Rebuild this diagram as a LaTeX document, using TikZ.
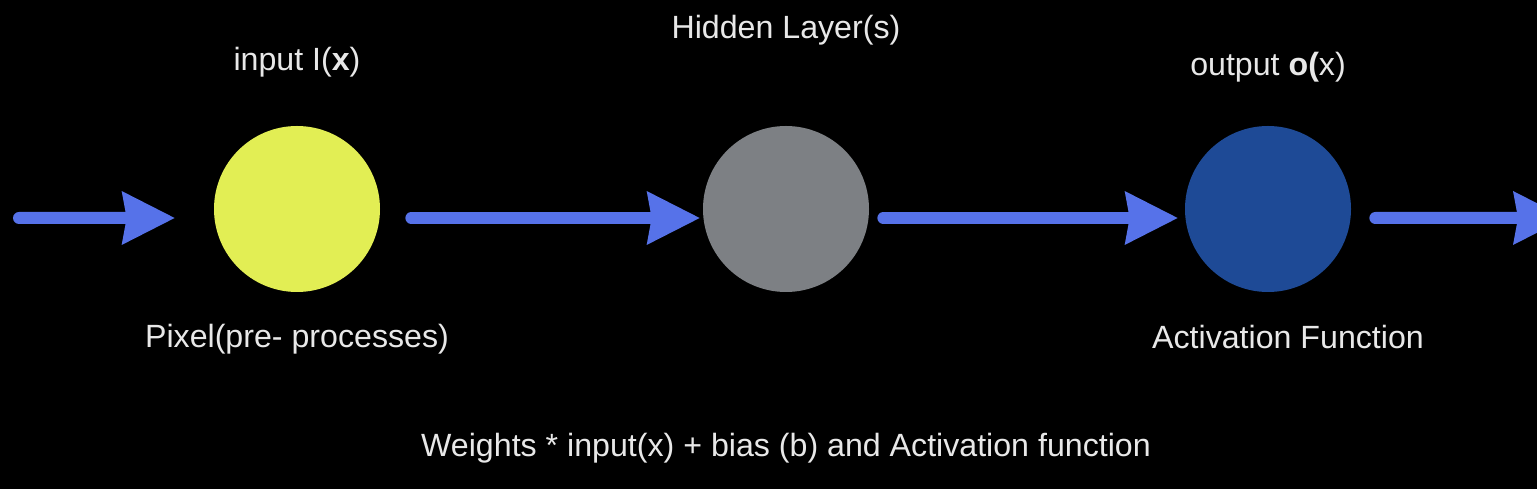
\documentclass[tikz,border=0pt]{standalone}
\usepackage{fontspec}
\setmainfont{Liberation Sans}
\usetikzlibrary{arrows.meta}

\begin{document}
\begin{tikzpicture}[x=0.2mm, y=-0.2mm,
    neuron/.style={circle, minimum size=3.32cm, inner sep=0pt},
    lbl/.style={anchor=base, text=labelgrey, font=\fontsize{18.3pt}{22pt}\selectfont},
    flow/.style={draw=flowblue, line width=0.24cm, line cap=round,
      -{Stealth[length=10.6mm, width=10.8mm, inset=1mm, line width=0pt]}}]
  % Define colors
  \definecolor{bggrey}{RGB}{0,0,0}
  \definecolor{labelgrey}{RGB}{232,232,232}
  \definecolor{flowblue}{RGB}{86,114,233}
  \definecolor{inyellow}{RGB}{226,238,84}
  \definecolor{hidgrey}{RGB}{125,128,132}
  \definecolor{outblue}{RGB}{30,74,150}

  % Background
  \clip (0,0) rectangle (1537,489);
  \fill[bggrey] (0,0) rectangle (1537,489);

  % Neurons
  \node[neuron, fill=inyellow] (inp) at (297,209) {};
  \node[neuron, fill=hidgrey] (hid) at (786,209) {};
  \node[neuron, fill=outblue] (outp) at (1268,209) {};

  % Loose arrow ends
  \coordinate (src) at (19,218);
  \coordinate (snk) at (1566,218);

  % Arrows
  \draw[flow, shorten >=0.78cm] (src) -- ([yshift=-1.8mm]inp.west);
  \draw[flow, shorten <=0.62cm, shorten >=0.06cm] ([yshift=-1.8mm]inp.east) -- ([yshift=-1.8mm]hid.west);
  \draw[flow, shorten <=0.28cm, shorten >=0.14cm] ([yshift=-1.8mm]hid.east) -- ([yshift=-1.8mm]outp.west);
  \draw[flow, shorten <=0.48cm] ([yshift=-1.8mm]outp.east) -- (snk);

  % Labels
  \node[lbl] (lin) at (297,71) {input I(\textbf{x})};
  \node[lbl] (lhid) at (786,39) {Hidden Layer(s)};
  \node[lbl] (lout) at (1268,76) {output \textbf{o(}x)};
  \node[lbl] (lpix) at (297,348) {Pixel(pre- processes)};
  \node[lbl] (lact) at (1288,349) {Activation Function};
  \node[lbl] (lsum) at (786,457) {Weights * input(x) + bias (b) and Activation function};
\end{tikzpicture}
\end{document}
